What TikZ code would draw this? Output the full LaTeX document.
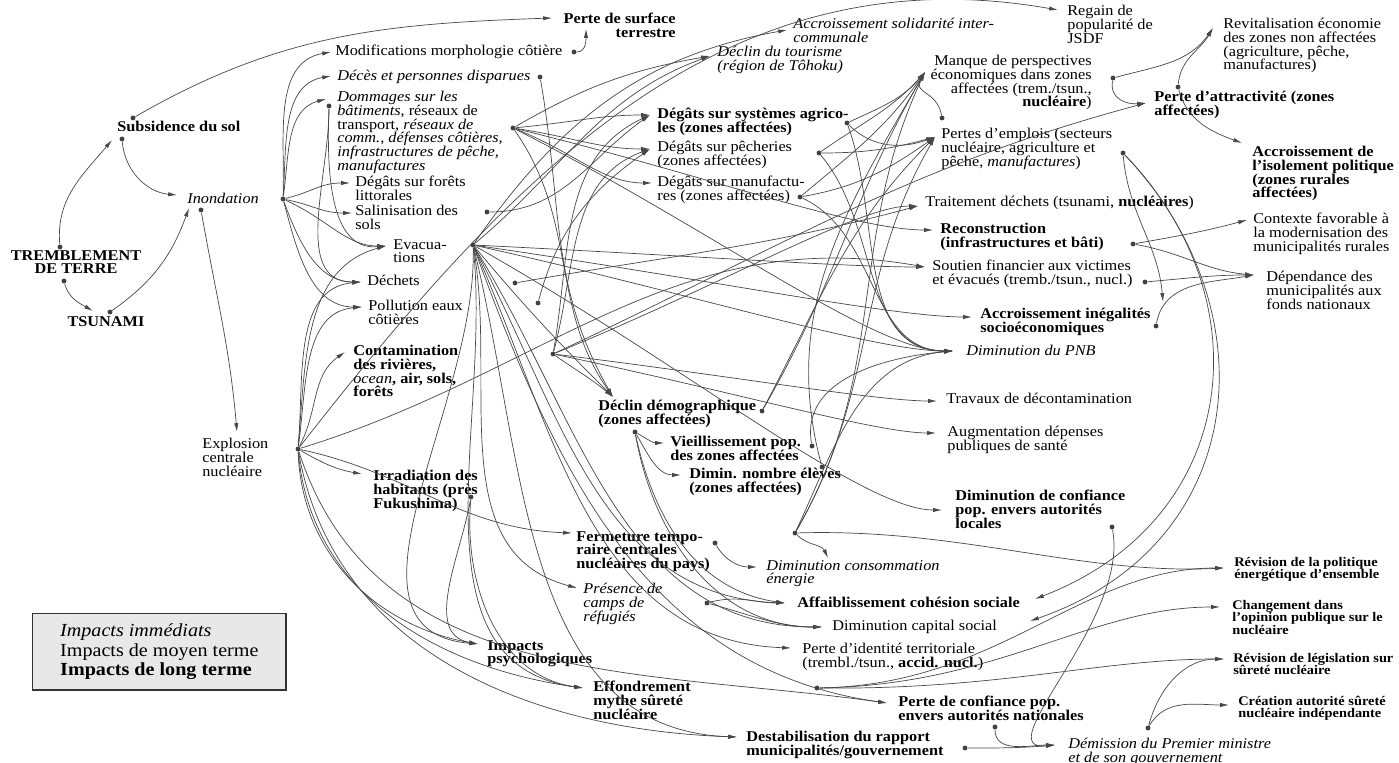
\documentclass[tikz,border=0pt]{standalone}
\usepackage{fontspec}
\setmainfont{Liberation Serif}[FakeStretch=1.09]
\usepackage{tikz}
\usetikzlibrary{arrows.meta, positioning, calc}
\newcommand{\tightlines}{\lineskiplimit-9pt\relax}

\begin{document}
\begin{tikzpicture}[
  x=0.02cm, y=0.02cm,
  >={Latex[length=5pt, width=2.4pt]},
  lbl/.style={anchor=north west, inner sep=0pt, align=left, font=\fontsize{8.5}{7.8}\selectfont\tightlines},
  imm/.style={lbl, font=\fontsize{8.5}{7.8}\selectfont\tightlines\itshape},
  moy/.style={lbl},
  lng/.style={lbl, font=\fontsize{8.5}{7.8}\selectfont\tightlines\bfseries},
  lngs/.style={lbl, font=\fontsize{7.5}{7}\selectfont\tightlines\bfseries},
  src/.style={circle, fill=black!75, inner sep=0pt, minimum size=2.8pt},
  fl/.style={->, draw=black!72, line width=0.4pt},
  fan/.style={to path={.. controls ($(\tikztostart)!0.45!(\tikztotarget)$) and ($(\tikztotarget)+(-#1,0)$) .. (\tikztotarget)}},
  fan/.default=50,
  legendbox/.style={draw=black!80, line width=0.8pt, fill=gray!18, align=left, font=\fontsize{10.5}{11.2}\selectfont, inner xsep=0.55cm, inner ysep=0.2cm, minimum width=4.92cm},
]

\useasboundingbox (0,0) rectangle (1399,-763);

% --- Origine : seisme et tsunami ---
\node[lng, anchor=north, align=center] (trem) at (76,-250) {TREMBLEMENT\\DE TERRE};
\node[lng, anchor=north] (tsun) at (106,-316) {TSUNAMI};
\node[lng] (subs) at (117,-121) {Subsidence du sol};
\node[imm] (inond) at (187,-193) {Inondation};
\node[moy] (expl) at (202,-438) {Explosion\\centrale\\nucléaire};

\node[src] (trem-o1) at (60,-247) {};
\node[src] (trem-o2) at (64,-281) {};
\node[src] (tsun-o) at (110,-312) {};
\node[src] (subs-o1) at (133,-118) {};
\node[src] (subs-o2) at (122,-139) {};
\node[src] (inond-o) at (283,-199) {};
\node[src] (inond-o2) at (201,-210) {};
\node[src] (expl-o) at (298,-449) {};
\coordinate (tsun-i) at (93,-311);
\coordinate (subs-i) at (112,-140);
\coordinate (inond-i1) at (177,-195);
\coordinate (inond-i2) at (189,-208);
\coordinate (expl-i) at (237,-432);

% --- Impacts directs (colonne gauche) ---
\node[lng, anchor=north east, align=right] (surf) at (676,-13) {Perte de surface\\terrestre};
\node[moy] (modif) at (335,-45) {Modifications morphologie côtière};
\node[imm] (deces) at (337,-70) {Décès et personnes disparues};
\node[moy] (domm) at (337,-91) {\textit{Dommages sur les}\\\textit{bâtiments}, réseaux de\\transport, \textit{réseaux de}\\\textit{comm., défenses côtières,}\\\textit{infrastructures de pêche,}\\\textit{manufactures}};
\node[moy] (forets) at (355,-176) {Dégâts sur forêts\\littorales};
\node[moy] (salin) at (355,-205) {Salinisation des\\sols};
\node[moy] (evac) at (393,-239) {Evacua-\\tions};
\node[moy] (dech) at (367,-275) {Déchets};
\node[moy] (pollu) at (368,-300) {Pollution eaux\\côtières};
\node[lng] (conta) at (353,-345) {Contamination\\des rivières,\\{\mdseries\itshape ocean}, air, sols,\\forêts};
\node[lng] (irrad) at (373,-470) {Irradiation des\\habitants (près\\Fukushima)};

\coordinate (surf-i1) at (552,-18);
\coordinate (surf-i2) at (586,-29);
\coordinate (modif-i) at (331,-52);
\coordinate (deces-i) at (331,-76);
\coordinate (domm-i) at (326,-99);
\coordinate (forets-i) at (350,-183);
\coordinate (salin-i) at (352,-213);
\coordinate (evac-i) at (386,-246);
\coordinate (dech-i) at (361,-282);
\coordinate (pollu-i) at (362,-307);
\coordinate (conta-i) at (345,-352);
\coordinate (irrad-i) at (362,-474);
\node[src] (modif-o) at (574,-52) {};
\node[src] (deces-o) at (540,-77) {};
\node[src] (domm-o1) at (329,-106) {};
\node[src] (domm-o2) at (513,-128) {};
\node[src] (salin-o) at (487,-212) {};
\node[src] (evac-o) at (473,-245) {};
\node[src] (dech-o) at (515,-283) {};
\node[src] (pollu-o) at (538,-303) {};
\node[src] (conta-o) at (553,-354) {};
\node[src] (irrad-o) at (471,-497) {};

% --- Impacts economiques ---
\node[moy] (regain) at (1067,-5) {Regain de\\popularité de\\JSDF};
\node[imm] (solid) at (793,-18) {Accroissement solidarité inter-\\communale};
\node[imm] (tour) at (717,-46) {Déclin du tourisme\\(région de Tôhoku)};
\node[lng] (agri) at (657,-108) {Dégâts sur systèmes agrico-\\les (zones affectées)};
\node[moy] (pech) at (657,-141) {Dégâts sur pêcheries\\(zones affectées)};
\node[moy] (manuf) at (657,-176) {Dégâts sur manufactu-\\res (zones affectées)};
\node[moy, anchor=north east, align=right] (manque) at (1092,-55) {Manque de perspectives\\économiques dans zones\\affectées (trem./tsun.,\\\textbf{nucléaire})};
\node[moy] (emploi) at (941,-128) {Pertes d'emplois (secteurs\\nucléaire, agriculture et\\pêche, \textit{manufactures})};
\node[moy] (revit) at (1223,-18) {Revitalisation économie\\des zones non affectées\\(agriculture, pêche,\\manufactures)};
\node[lng] (attract) at (1154,-91) {Perte d'attractivité (zones\\affectées)};
\node[lng] (isol) at (1252,-146) {Accroissement de\\l'isolement politique\\(zones rurales\\affectées)};
\node[moy] (trait) at (925,-196) {Traitement déchets (tsunami, \textbf{nucléaires})};
\node[lng] (recon) at (940,-223) {Reconstruction\\(infrastructures et bâti)};
\node[moy] (contexte) at (1253,-213) {Contexte favorable à\\la modernisation des\\municipalités rurales};
\node[moy] (soutien) at (932,-260) {Soutien financier aux victimes\\et évacués (tremb./tsun., nucl.)};
\node[moy] (depend) at (1266,-271) {Dépendance des\\municipalités aux\\fonds nationaux};
\node[lng] (inegal) at (980,-308) {Accroissement inégalités\\socioéconomiques};
\node[imm] (pnb) at (966,-345) {Diminution du PNB};
\node[moy] (travaux) at (946,-393) {Travaux de décontamination};
\node[moy] (sante) at (947,-426) {Augmentation dépenses\\publiques de santé};

\coordinate (regain-i) at (1058,-10);
\coordinate (solid-i) at (787,-30);
\coordinate (tour-i) at (710,-56);
\coordinate (agri-i) at (650,-115);
\coordinate (pech-i) at (650,-149);
\coordinate (manuf-i) at (652,-183);
\coordinate (manque-i) at (925,-72);
\coordinate (emploi-i) at (935,-137);
\coordinate (revit-i) at (1213,-28);
\coordinate (attract-i) at (1146,-103);
\coordinate (isol-i) at (1242,-143);
\coordinate (trait-i) at (918,-206);
\coordinate (recon-i) at (933,-230);
\coordinate (contexte-i) at (1247,-220);
\coordinate (soutien-i) at (925,-267);
\coordinate (depend-i) at (1254,-275);
\coordinate (inegal-i) at (972,-317);
\coordinate (inegal-i2) at (1163,-302);
\coordinate (pnb-i) at (953,-351);
\coordinate (travaux-i) at (937,-401);
\coordinate (sante-i) at (936,-433);
\node[src] (agri-o) at (847,-123) {};
\node[src] (pech-o) at (819,-153) {};
\node[src] (manuf-o) at (800,-197) {};
\node[src] (manque-o) at (1113,-78) {};
\node[src] (emploi-o1) at (942,-118) {};
\node[src] (emploi-o2) at (1123,-153) {};
\node[src] (attract-o) at (1178,-87) {};
\node[src] (recon-o) at (1133,-244) {};
\node[src] (soutien-o) at (1145,-282) {};
\node[src] (inegal-o) at (1156,-326) {};

% --- Impacts sociaux ---
\node[lng] (demo) at (598,-400) {Déclin démographique\\(zones affectées)};
\node[lng] (vieil) at (670,-436) {Vieillissement pop.\\des zones affectées};
\node[lng] (eleves) at (689,-468) {Dimin. nombre élèves\\(zones affectées)};
\node[lng] (locales) at (955,-490) {Diminution de confiance\\pop. envers autorités\\locales};
\node[lng] (ferm) at (576,-531) {Fermeture tempo-\\raire centrales\\nucléaires du pays)};
\node[imm] (conso) at (766,-560) {Diminution consommation\\énergie};
\node[imm] (camps) at (583,-583) {Présence de\\camps de\\réfugiés};
\node[lng] (cohes) at (797,-597) {Affaiblissement cohésion sociale};
\node[moy] (capital) at (832,-620) {Diminution capital social};
\node[lng] (psycho) at (487,-640) {Impacts\\psychologiques};
\node[moy] (ident) at (802,-643) {Perte d'identité territoriale\\(trembl./tsun., \textbf{accid. nucl.})};
\node[lng] (effond) at (593,-681) {Effondrement\\mythe sûreté\\nucléaire};
\node[lng] (nation) at (898,-696) {Perte de confiance pop.\\envers autorités nationales};
\node[lng] (destab) at (746,-731) {Destabilisation du rapport\\municipalités/gouvernement};
\node[imm] (demiss) at (1068,-738) {Démission du Premier ministre\\et de son gouvernement};
\node[lngs] (polit) at (1234,-557) {Révision de la politique\\énergétique d'ensemble};
\node[lngs] (opinion) at (1232,-600) {Changement dans\\l'opinion publique sur le\\nucléaire};
\node[lngs] (legis) at (1233,-653) {Révision de législation sur\\sûreté nucléaire};
\node[lngs] (creat) at (1238,-696) {Création autorité sûreté\\nucléaire indépendante};

\coordinate (demo-i) at (613,-397);
\coordinate (vieil-i) at (664,-443);
\coordinate (eleves-i) at (681,-475);
\coordinate (locales-i) at (942,-510);
\coordinate (ferm-i) at (572,-533);
\coordinate (conso-i1) at (757,-567);
\coordinate (conso-i2) at (828,-558);
\coordinate (camps-i) at (577,-588);
\coordinate (cohes-i) at (785,-603);
\coordinate (cohes-i2) at (1035,-599);
\coordinate (capital-i) at (822,-627);
\coordinate (capital-i2) at (1030,-621);
\coordinate (psycho-i) at (478,-644);
\coordinate (ident-i) at (791,-648);
\coordinate (effond-i) at (583,-688);
\coordinate (nation-i) at (887,-703);
\coordinate (destab-i) at (737,-737);
\coordinate (demiss-i) at (1055,-745);
\coordinate (polit-i) at (1224,-568);
\coordinate (opinion-i) at (1220,-607);
\coordinate (legis-i) at (1224,-659);
\coordinate (creat-i) at (1229,-705);
\node[src] (demo-o1) at (762,-411) {};
\node[src] (demo-o2) at (635,-432) {};
\node[src] (vieil-o) at (812,-446) {};
\node[src] (eleves-o) at (822,-467) {};
\node[src] (locales-o) at (1112,-527) {};
\node[src] (ferm-o1) at (715,-543) {};
\node[src] (ferm-o2) at (795,-533) {};
\node[src] (camps-o) at (707,-603) {};
\node[src] (effond-o) at (817,-688) {};
\node[src] (nation-o) at (995,-727) {};
\node[src] (destab-o) at (965,-748) {};
\node[src] (demiss-o) at (1148,-728) {};

% --- Legende ---
\node[legendbox, anchor=north west] (legend) at (32,-613) {\textit{Impacts immédiats}\\Impacts de moyen terme\\\textbf{Impacts de long terme}};

% --- Liens : seisme, tsunami, subsidence ---
\draw[fl] (trem-o1) to[out=95, in=230] (subs-i);
\draw[fl] (trem-o2) to[out=-75, in=150] (tsun-i);
\draw[fl] (tsun-o) to[out=35, in=250] (inond-i2);
\draw[fl] (subs-o1) to[out=30, in=182] (surf-i1);
\draw[fl] (subs-o2) to[out=-85, in=175] (inond-i1);
\draw[fl] (inond-o2) to[out=-80, in=95] (expl-i);

% --- Liens : inondation ---
\draw[fl] (inond-o) to[out=88, in=190] (modif-i);
\draw[fl] (inond-o) to[out=86, in=190] (deces-i);
\draw[fl] (inond-o) to[out=82, in=195] (domm-i);
\draw[fl] (inond-o) to[fan=30] (forets-i);
\draw[fl] (inond-o) to[fan=30] (salin-i);
\draw[fl] (inond-o) to[fan=40] (evac-i);
\draw[fl] (inond-o) to[out=-70, in=180] (dech-i);
\draw[fl] (inond-o) to[out=-75, in=180] (pollu-i);

% --- Liens : dommages, deces, modifications ---
\draw[fl] (modif-o) to[out=0, in=-90] (surf-i2);
\draw[fl] (deces-o) to[out=-80, in=120] (demo-i);
\draw[fl] (domm-o1) to[out=-92, in=185] (evac-i);
\draw[fl] (domm-o1) to[out=-90, in=180] (dech-i);
\draw[fl] (domm-o2) to[out=30, in=190] (tour-i);
\draw[fl] (domm-o2) to[fan] (agri-i);
\draw[fl] (domm-o2) to[fan] (pech-i);
\draw[fl] (domm-o2) to[fan] (manuf-i);
\draw[fl] (domm-o2) to[fan=80] (recon-i);
\draw[fl] (domm-o2) to[out=-55, in=125] (demo-i);
\draw[fl] (domm-o2) to[fan=80] (pnb-i);

% --- Liens : explosion centrale ---
\draw[fl] (expl-o) to[out=85, in=195] (evac-i);
\draw[fl] (expl-o) to[out=85, in=185] (dech-i);
\draw[fl] (expl-o) to[out=82, in=185] (pollu-i);
\draw[fl] (expl-o) to[out=62, in=215] (conta-i);
\draw[fl] (expl-o) to[out=-30, in=170] (irrad-i);
\draw[fl] (expl-o) to[out=-12, in=178] (ferm-i);
\draw[fl] (expl-o) to[out=17, in=170] (soutien-i);
\draw[fl] (expl-o) to[out=-88, in=170] (psycho-i);
\draw[fl] (expl-o) to[out=-85, in=172] (effond-i);
\draw[fl] (expl-o) to[out=-80, in=178] (destab-i);
\draw[fl] (expl-o) to[out=-72, in=172] (nation-i);
\draw[fl] (expl-o) to[out=52, in=170] (regain-i);

% --- Liens : evacuations ---
\draw[fl] (evac-o) to[out=40, in=200] (tour-i);
\draw[fl] (evac-o) to[out=55, in=190] (solid-i);
\draw[fl] (evac-o) to[fan=80] (soutien-i);
\draw[fl] (evac-o) to[fan=80] (inegal-i);
\draw[fl] (evac-o) to[fan=80] (pnb-i);
\draw[fl] (evac-o) to[fan=80] (locales-i);
\draw[fl] (evac-o) to[out=-50, in=135] (demo-i);
\draw[fl] (evac-o) to[out=-88, in=175] (psycho-i);
\draw[fl] (evac-o) to[out=-80, in=165] (camps-i);
\draw[fl] (evac-o) to[out=-84, in=172] (effond-i);
\draw[fl] (evac-o) to[out=-62, in=178] (cohes-i);
\draw[fl] (evac-o) to[out=-58, in=180] (capital-i);
\draw[fl] (evac-o) to[out=-66, in=178] (ident-i);
\draw[fl] (evac-o) to[out=-76, in=178] (destab-i);
\draw[fl] (evac-o) to[out=-70, in=172] (nation-i);

% --- Liens : pollutions et contamination ---
\draw[fl] (salin-o) to[out=0, in=215] (agri-i);
\draw[fl] (dech-o) to[out=10, in=195] (trait-i);
\draw[fl] (pollu-o) to[out=75, in=215] (pech-i);
\draw[fl] (conta-o) to[out=80, in=205] (agri-i);
\draw[fl] (conta-o) to[out=75, in=200] (pech-i);
\draw[fl] (conta-o) to[out=-35, in=140] (demo-i);
\draw[fl] (conta-o) to[fan=60] (trait-i);
\draw[fl] (conta-o) to[out=25, in=195] (attract-i);
\draw[fl] (conta-o) to[fan=60] (travaux-i);
\draw[fl] (conta-o) to[fan=60] (sante-i);
\draw[fl] (irrad-o) to[out=-100, in=170] (psycho-i);
\draw[fl] (irrad-o) to[out=-95, in=172] (effond-i);

% --- Liens : degats economiques ---
\draw[fl] (agri-o) to[out=25, in=230] (manque-i);
\draw[fl] (agri-o) to[out=-45, in=200] (emploi-i);
\draw[fl] (agri-o) to[out=-70, in=180] (pnb-i);
\draw[fl] (pech-o) to[out=35, in=228] (manque-i);
\draw[fl] (pech-o) to[out=0, in=195] (emploi-i);
\draw[fl] (pech-o) to[out=-50, in=180] (pnb-i);
\draw[fl] (manuf-o) to[out=40, in=235] (manque-i);
\draw[fl] (manuf-o) to[out=10, in=215] (emploi-i);
\draw[fl] (manuf-o) to[out=-25, in=180] (pnb-i);

% --- Liens : emplois, attractivite ---
\draw[fl] (emploi-o1) to[out=100, in=240, looseness=1.4] (manque-i);
\draw[fl] (emploi-o2) to[out=-85, in=95] (inegal-i2);
\draw[fl] (emploi-o2) .. controls (1265,-300) and (1240,-520) .. (cohes-i2);
\draw[fl] (emploi-o2) .. controls (1272,-310) and (1250,-545) .. (capital-i2);
\draw[fl] (manque-o) to[out=15, in=235] (revit-i);
\draw[fl] (manque-o) to[out=-100, in=185, looseness=1.2] (attract-i);
\draw[fl] (attract-o) to[out=85, in=240] (revit-i);
\draw[fl] (attract-o) to[out=-75, in=160] (isol-i);
\draw[fl] (recon-o) to[out=10, in=195] (contexte-i);
\draw[fl] (recon-o) to[out=-10, in=175] (depend-i);
\draw[fl] (soutien-o) to[out=5, in=180] (depend-i);
\draw[fl] (inegal-o) to[out=80, in=190] (depend-i);

% --- Liens : demographie ---
\draw[fl] (demo-o1) to[out=60, in=240] (manque-i);
\draw[fl] (demo-o1) to[out=62, in=225] (emploi-i);
\draw[fl] (demo-o2) to[out=-30, in=180] (vieil-i);
\draw[fl] (demo-o2) to[out=-60, in=180] (eleves-i);
\draw[fl] (demo-o2) to[out=-78, in=172] (cohes-i);
\draw[fl] (demo-o2) to[out=-80, in=180] (capital-i);
\draw[fl] (vieil-o) to[out=100, in=185] (pnb-i);
\draw[fl] (eleves-o) to[out=105, in=240] (manque-i);

% --- Liens : fermeture, camps ---
\draw[fl] (ferm-o1) to[out=-60, in=180] (conso-i1);
\draw[fl] (ferm-o2) to[out=-45, in=115] (conso-i2);
\draw[fl] (ferm-o2) .. controls (960,-528) and (1080,-575) .. (polit-i);
\draw[fl] (ferm-o2) to[out=60, in=245] (manque-i);
\draw[fl] (ferm-o2) to[out=60, in=240] (emploi-i);
\draw[fl] (ferm-o2) to[out=65, in=185] (pnb-i);
\draw[fl] (camps-o) to[out=15, in=180] (cohes-i);
\draw[fl] (camps-o) to[out=-15, in=180] (capital-i);

% --- Liens : autorites et surete ---
\draw[fl] (effond-o) .. controls (1000,-685) and (1080,-568) .. (polit-i);
\draw[fl] (effond-o) .. controls (1000,-685) and (1090,-607) .. (opinion-i);
\draw[fl] (effond-o) .. controls (1000,-690) and (1100,-659) .. (legis-i);
\draw[fl] (locales-o) .. controls (1130,-620) and (985,-752) .. (demiss-i);
\draw[fl] (nation-o) to[out=-90, in=180] (demiss-i);
\draw[fl] (destab-o) to[out=0, in=185] (demiss-i);
\draw[fl] (demiss-o) to[out=75, in=180] (legis-i);
\draw[fl] (demiss-o) to[out=60, in=180] (creat-i);

\end{tikzpicture}
\end{document}
